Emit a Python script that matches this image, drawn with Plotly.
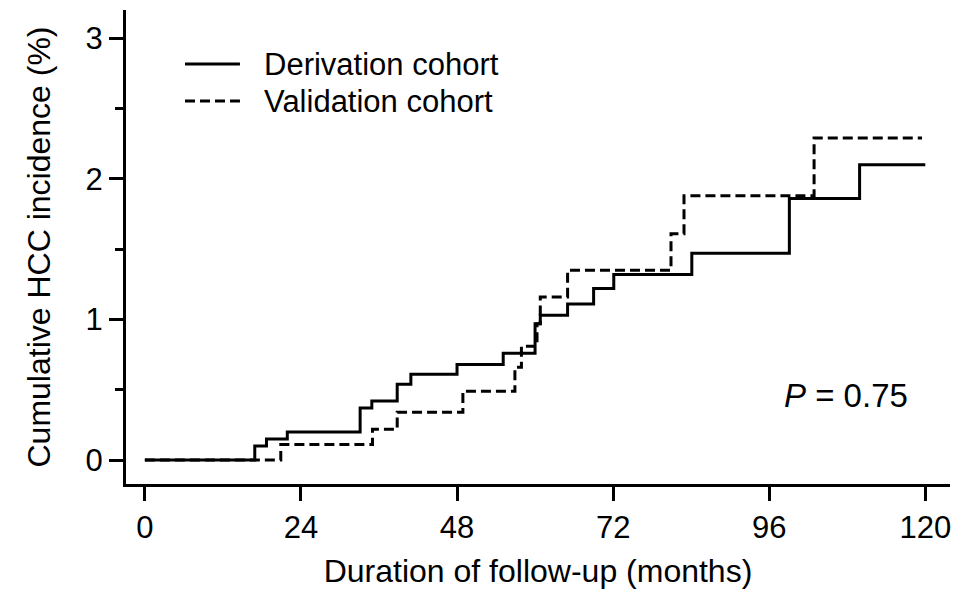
import plotly.graph_objects as go

# Derivation cohort (solid)
deriv_t = [0, 16.9, 18.7, 21.9, 33.1, 34.9, 38.8, 40.9, 48.0, 55.1, 60.0, 60.8, 65.0, 69.0, 72.1, 84.1, 99.1, 109.9, 120]
deriv_v = [0, 0.10, 0.15, 0.20, 0.37, 0.42, 0.54, 0.61, 0.68, 0.76, 0.97, 1.03, 1.11, 1.22, 1.32, 1.47, 1.86, 2.10, 2.10]

# Validation cohort (dashed)
valid_t = [0, 20.9, 35.0, 38.8, 48.9, 56.9, 57.9, 60.3, 60.8, 65.0, 80.9, 82.9, 102.9, 119.5]
valid_v = [0, 0.11, 0.22, 0.34, 0.49, 0.66, 0.81, 0.97, 1.16, 1.35, 1.61, 1.88, 2.29, 2.29]

x_ticks = [0, 24, 48, 72, 96, 120]
y_ticks = [0, 1, 2, 3]

series_names = ["Derivation cohort", "Validation cohort"]
series_dash = ["solid", "10px,5px"]

FONT = "Liberation Sans, Arial, sans-serif"
FS = 31

fig = go.Figure()
fig.add_trace(go.Scatter(x=deriv_t, y=deriv_v, mode="lines", line_shape="hv",
                         line=dict(color="black", width=3, dash=series_dash[0]), name=series_names[0],
                         showlegend=False))
fig.add_trace(go.Scatter(x=valid_t, y=valid_v, mode="lines", line_shape="hv",
                         line=dict(color="black", width=3, dash=series_dash[1]), name=series_names[1],
                         showlegend=False))

# Manual legend (paper coordinates)
legend_y = [0.886, 0.808]
for name, dash, ly in zip(series_names, series_dash, legend_y):
    fig.add_shape(type="line", xref="paper", yref="paper", x0=0.0716, x1=0.1383, y0=ly, y1=ly,
                  line=dict(color="black", width=3, dash=dash))
    fig.add_annotation(x=0.165, y=ly, xref="paper", yref="paper", xanchor="left", yanchor="middle",
                       text=name, showarrow=False, font=dict(size=FS, color="black", family=FONT))

fig.add_annotation(x=117.7, y=0.46, xref="x", yref="y", xanchor="right", yanchor="middle",
                   text="<i>P</i> = 0.75", showarrow=False, font=dict(size=33, color="black", family=FONT))

fig.update_xaxes(range=[-2.9, 123.8], tickvals=x_ticks, ticktext=[str(t) for t in x_ticks],
                 showline=True, linecolor="black", linewidth=3, mirror=False, automargin=False,
                 ticks="outside", ticklen=14, tickwidth=3, tickcolor="black",
                 showgrid=False, zeroline=False,
                 tickfont=dict(size=FS, color="black", family=FONT),
                 title=dict(text="Duration of follow-up (months)", font=dict(size=FS + 1, color="black", family=FONT), standoff=20))
fig.update_yaxes(range=[-0.17, 3.2], tickvals=y_ticks, ticktext=[str(t) for t in y_ticks],
                 showline=True, linecolor="black", linewidth=3, mirror=False, automargin=False,
                 ticks="outside", ticklen=14, tickwidth=3, tickcolor="black",
                 minor=dict(dtick=0.5, tick0=0, ticks="outside", ticklen=8, tickwidth=3, tickcolor="black", showgrid=False),
                 showgrid=False, zeroline=False,
                 tickfont=dict(size=FS, color="black", family=FONT),
                 title=dict(text="Cumulative HCC incidence (%)", font=dict(size=FS + 1, color="black", family=FONT), standoff=26))

fig.update_layout(width=967, height=589, margin=dict(l=126, r=17, t=10, b=105),
                  plot_bgcolor="white", paper_bgcolor="white",
                  font=dict(family=FONT, color="black"),
                  showlegend=False)

fig.write_html("out.html")
